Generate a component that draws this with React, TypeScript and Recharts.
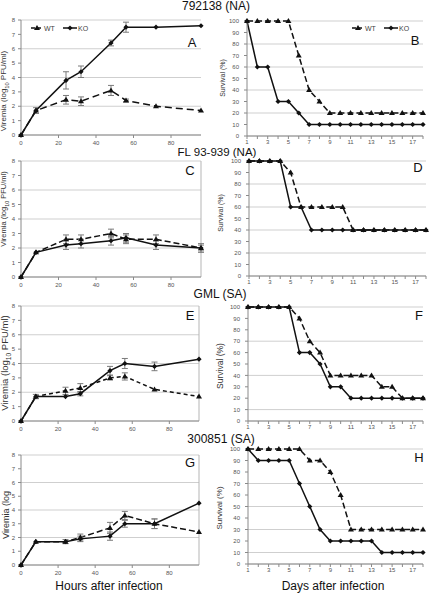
import React from "react";
import {
  LineChart,
  Line,
  XAxis,
  YAxis,
  CartesianGrid,
  ErrorBar,
  ReferenceLine,
} from "recharts";

// sampling points
const hours = [0, 8, 24, 32, 48, 56, 72, 96];
const days = [1, 2, 3, 4, 5, 6, 7, 8, 9, 10, 11, 12, 13, 14, 15, 16, 17, 18];

// 792138 (NA)
const wtViremiaA = [0, 1.7, 2.45, 2.35, 3.1, 2.4, 2.0, 1.7];
const wtErrA = [0, 0.2, 0.3, 0.3, 0.35, 0.1, 0, 0];
const koViremiaA = [0, 1.7, 3.8, 4.4, 6.4, 7.5, 7.5, 7.6];
const koErrA = [0, 0, 0.6, 0.4, 0.2, 0.35, 0, 0];
const wtSurvB = [100, 100, 100, 100, 100, 70, 40, 30, 20, 20, 20, 20, 20, 20, 20, 20, 20, 20];
const koSurvB = [100, 60, 60, 30, 30, 20, 10, 10, 10, 10, 10, 10, 10, 10, 10, 10, 10, 10];

// FL 93-939 (NA)
const wtViremiaC = [0, 1.7, 2.6, 2.6, 3.0, 2.6, 2.6, 2.0];
const wtErrC = [0, 0, 0.3, 0.3, 0.3, 0.3, 0.3, 0.3];
const koViremiaC = [0, 1.7, 2.2, 2.3, 2.5, 2.7, 2.2, 2.0];
const koErrC = [0, 0, 0.3, 0.3, 0.3, 0.3, 0.3, 0.2];
const wtSurvD = [100, 100, 100, 100, 90, 60, 60, 60, 60, 60, 40, 40, 40, 40, 40, 40, 40, 40];
const koSurvD = [100, 100, 100, 100, 60, 60, 40, 40, 40, 40, 40, 40, 40, 40, 40, 40, 40, 40];

// GML (SA)
const wtViremiaE = [0, 1.7, 2.1, 2.3, 3.0, 3.1, 2.2, 1.7];
const wtErrE = [0, 0.15, 0.25, 0.3, 0.15, 0.25, 0, 0];
const koViremiaE = [0, 1.7, 1.7, 1.9, 3.5, 4.0, 3.8, 4.3];
const koErrE = [0, 0, 0, 0.15, 0.3, 0.35, 0.3, 0];
const wtSurvF = [100, 100, 100, 100, 100, 90, 70, 60, 40, 40, 40, 40, 40, 30, 30, 20, 20, 20];
const koSurvF = [100, 100, 100, 100, 100, 60, 60, 50, 30, 30, 20, 20, 20, 20, 20, 20, 20, 20];

// 300851 (SA)
const wtViremiaG = [0, 1.7, 1.7, 2.0, 2.7, 3.6, 3.0, 2.4];
const wtErrG = [0, 0, 0.15, 0.25, 0.4, 0.3, 0.35, 0];
const koViremiaG = [0, 1.7, 1.7, 1.9, 2.1, 3.0, 3.0, 4.5];
const koErrG = [0, 0, 0, 0.2, 0.3, 0.25, 0.35, 0];
const wtSurvH = [100, 100, 100, 100, 100, 100, 90, 90, 80, 60, 30, 30, 30, 30, 30, 30, 30, 30];
const koSurvH = [100, 90, 90, 90, 90, 70, 50, 30, 20, 20, 20, 20, 20, 10, 10, 10, 10, 10];

const viremiaTicks = [0, 1, 2, 3, 4, 5, 6, 7, 8];
const survivalTicks = [0, 10, 20, 30, 40, 50, 60, 70, 80, 90, 100];

const FONT = "'Liberation Sans', Arial, sans-serif";
const INK = "#111";
const AXIS = "#8a8a8a";
const GRID = "#cfcfcf";
const TICK = { fontSize: 6, fill: "#555", fontFamily: FONT };

const Triangle = (props: any) => {
  const { cx, cy } = props;
  if (cx == null || cy == null) return null;
  return (
    <path
      key={`t-${cx}-${cy}`}
      d={`M${cx},${cy - 3}L${cx + 3},${cy + 2}L${cx - 3},${cy + 2}Z`}
      fill={INK}
    />
  );
};

const Diamond = (props: any) => {
  const { cx, cy } = props;
  if (cx == null || cy == null) return null;
  return (
    <path
      key={`d-${cx}-${cy}`}
      d={`M${cx},${cy - 2.6}L${cx + 2.6},${cy}L${cx},${cy + 2.6}L${cx - 2.6},${cy}Z`}
      fill={INK}
    />
  );
};

type Box = { left: number; top: number; width: number; height: number };
type Margin = { top: number; right: number; bottom: number; left: number };

function ViremiaPanel({
  box,
  margin,
  wt,
  wtErr,
  ko,
  koErr,
  dash,
  frame,
}: {
  box: Box;
  margin: Margin;
  wt: number[];
  wtErr: number[];
  ko: number[];
  koErr: number[];
  dash: string;
  frame?: boolean;
}) {
  const rows = hours.map((h, i) => ({
    h,
    wt: wt[i],
    wtErr: wtErr[i],
    ko: ko[i],
    koErr: koErr[i],
  }));
  return (
    <div style={{ position: "absolute", ...box }}>
      <LineChart width={box.width} height={box.height} data={rows} margin={margin}>
        <CartesianGrid horizontal vertical={false} stroke={GRID} />
        <XAxis
          dataKey="h"
          type="number"
          domain={[0, 96]}
          ticks={[0, 20, 40, 60, 80]}
          tick={TICK}
          tickSize={3}
          tickMargin={3}
          height={12}
          axisLine={{ stroke: AXIS }}
          tickLine={{ stroke: AXIS }}
        />
        <YAxis
          type="number"
          domain={[0, 8]}
          ticks={viremiaTicks}
          tick={TICK}
          tickSize={3}
          tickMargin={3}
          width={21}
          axisLine={{ stroke: AXIS }}
          tickLine={{ stroke: AXIS }}
        />
        {frame && <ReferenceLine x={96} stroke="#b5b5b5" />}
        <Line
          dataKey="wt"
          name="WT"
          stroke={INK}
          strokeWidth={1.5}
          strokeDasharray={dash}
          dot={Triangle}
          isAnimationActive={false}
        >
          <ErrorBar dataKey="wtErr" direction="y" width={3} stroke="#7a7a7a" strokeWidth={1} />
        </Line>
        <Line
          dataKey="ko"
          name="KO"
          stroke={INK}
          strokeWidth={1.5}
          dot={Diamond}
          isAnimationActive={false}
        >
          <ErrorBar dataKey="koErr" direction="y" width={3} stroke="#7a7a7a" strokeWidth={1} />
        </Line>
      </LineChart>
    </div>
  );
}

function SurvivalPanel({
  box,
  margin,
  axisWidth,
  wt,
  ko,
}: {
  box: Box;
  margin: Margin;
  axisWidth: number;
  wt: number[];
  ko: number[];
}) {
  const rows = days.map((d, i) => ({ d, wt: wt[i], ko: ko[i] }));
  return (
    <div style={{ position: "absolute", ...box }}>
      <LineChart width={box.width} height={box.height} data={rows} margin={margin}>
        <CartesianGrid horizontal vertical={false} stroke={GRID} />
        <XAxis
          dataKey="d"
          type="number"
          domain={[1, 18]}
          ticks={days}
          tickFormatter={(v: number) => (v % 2 === 1 ? String(v) : "")}
          tick={TICK}
          tickSize={3}
          tickMargin={1}
          height={12}
          axisLine={{ stroke: AXIS }}
          tickLine={{ stroke: AXIS }}
        />
        <YAxis
          type="number"
          domain={[0, 100]}
          ticks={survivalTicks}
          tick={TICK}
          tickSize={3}
          tickMargin={5}
          width={axisWidth}
          axisLine={{ stroke: AXIS }}
          tickLine={{ stroke: AXIS }}
        />
        <Line
          dataKey="wt"
          name="WT"
          stroke={INK}
          strokeWidth={1.5}
          strokeDasharray="6 3"
          dot={Triangle}
          isAnimationActive={false}
        />
        <Line
          dataKey="ko"
          name="KO"
          stroke={INK}
          strokeWidth={1.5}
          dot={Diamond}
          isAnimationActive={false}
        />
      </LineChart>
    </div>
  );
}

function Text({
  x,
  y,
  size,
  children,
  rotate,
  color = "#111",
  lh = 1,
}: {
  x: number;
  y: number;
  size: number;
  children: React.ReactNode;
  rotate?: boolean;
  color?: string;
  lh?: number;
}) {
  return (
    <div
      style={{
        position: "absolute",
        left: x,
        top: y,
        transform: `translate(-50%, -50%)${rotate ? " rotate(-90deg)" : ""}`,
        fontSize: size,
        fontFamily: FONT,
        color,
        whiteSpace: "nowrap",
        lineHeight: lh,
      }}
    >
      {children}
    </div>
  );
}

function LegendKey({ x, y }: { x: number; y: number }) {
  return (
    <svg
      style={{ position: "absolute", left: x, top: y - 5 }}
      width={70}
      height={10}
      fontFamily={FONT}
      fontSize={7}
    >
      <line x1={1} y1={5} x2={13} y2={5} stroke={INK} strokeWidth={1.5} strokeDasharray="4 2" />
      <Triangle cx={7} cy={5} />
      <text x={14} y={7.5} fill="#444">WT</text>
      <line x1={33} y1={5} x2={47} y2={5} stroke={INK} strokeWidth={1.5} />
      <Diamond cx={40} cy={5} />
      <text x={48} y={7.5} fill="#444">KO</text>
    </svg>
  );
}

const vireLabel = (
  <span>
    Viremia (log<span style={{ fontSize: "70%", verticalAlign: "sub" }}>10</span> PFU/ml)
  </span>
);

export default function App() {
  return (
    <div
      style={{
        position: "absolute",
        left: 0,
        top: 0,
        width: 431,
        height: 599,
        background: "#fff",
        overflow: "hidden",
      }}
    >
      <ViremiaPanel
        box={{ left: 0, top: 0, width: 215, height: 150 }}
        margin={{ top: 20, right: 14, bottom: 3, left: 0 }}
        wt={wtViremiaA}
        wtErr={wtErrA}
        ko={koViremiaA}
        koErr={koErrA}
        dash="7 4"
      />
      <SurvivalPanel
        box={{ left: 215, top: 0, width: 216, height: 150 }}
        margin={{ top: 21, right: 8, bottom: 2, left: 0 }}
        axisWidth={32}
        wt={wtSurvB}
        ko={koSurvB}
      />
      <ViremiaPanel
        box={{ left: 0, top: 150, width: 215, height: 150 }}
        margin={{ top: 11, right: 14, bottom: 11, left: 0 }}
        wt={wtViremiaC}
        wtErr={wtErrC}
        ko={koViremiaC}
        koErr={koErrC}
        dash="6 3"
        frame
      />
      <SurvivalPanel
        box={{ left: 215, top: 150, width: 216, height: 150 }}
        margin={{ top: 11, right: 5, bottom: 12, left: 0 }}
        axisWidth={34}
        wt={wtSurvD}
        ko={koSurvD}
      />
      <ViremiaPanel
        box={{ left: 0, top: 300, width: 215, height: 150 }}
        margin={{ top: 6, right: 16, bottom: 17, left: 0 }}
        wt={wtViremiaE}
        wtErr={wtErrE}
        ko={koViremiaE}
        koErr={koErrE}
        dash="4 3"
        frame
      />
      <SurvivalPanel
        box={{ left: 215, top: 300, width: 216, height: 150 }}
        margin={{ top: 7, right: 8, bottom: 17, left: 0 }}
        axisWidth={33}
        wt={wtSurvF}
        ko={koSurvF}
      />
      <ViremiaPanel
        box={{ left: 0, top: 450, width: 215, height: 149 }}
        margin={{ top: 5, right: 16, bottom: 22, left: 0 }}
        wt={wtViremiaG}
        wtErr={wtErrG}
        ko={koViremiaG}
        koErr={koErrG}
        dash="6 3"
        frame
      />
      <SurvivalPanel
        box={{ left: 215, top: 440, width: 216, height: 140 }}
        margin={{ top: 9, right: 8, bottom: 4, left: 0 }}
        axisWidth={33}
        wt={wtSurvH}
        ko={koSurvH}
      />

      {/* strain titles */}
      <Text x={216} y={7} size={12} lh={0.8}>792138 (NA)</Text>
      <Text x={217} y={152.8} size={11.5} lh={0.8}>FL 93-939 (NA)</Text>
      <Text x={220} y={295} size={12} lh={0.8}>GML (SA)</Text>
      <Text x={221} y={440} size={12} lh={0.8}>300851 (SA)</Text>

      {/* panel letters */}
      <Text x={192} y={42} size={13}>A</Text>
      <Text x={415} y={40} size={13}>B</Text>
      <Text x={190} y={170} size={13}>C</Text>
      <Text x={418} y={167} size={13}>D</Text>
      <Text x={190} y={315} size={13}>E</Text>
      <Text x={419} y={315} size={13}>F</Text>
      <Text x={190} y={462} size={13}>G</Text>
      <Text x={419} y={457} size={13}>H</Text>

      {/* axis titles */}
      <Text x={5} y={91} size={8} rotate color="#333">{vireLabel}</Text>
      <Text x={5} y={209} size={7.5} rotate color="#333">{vireLabel}</Text>
      <Text x={6} y={363} size={9.5} rotate color="#333">{vireLabel}</Text>
      <Text x={6} y={515} size={9} rotate color="#333">Viremia (log</Text>
      <Text x={222} y={78} size={7} rotate color="#333">Survival (%)</Text>
      <Text x={220} y={213} size={7} rotate color="#333">Survival (%)</Text>
      <Text x={220} y={366} size={8.5} rotate color="#333">Survival (%)</Text>
      <Text x={220} y={508} size={8} rotate color="#333">Survival (%)</Text>
      <Text x={109} y={586} size={12}>Hours after infection</Text>
      <Text x={333} y={586} size={12}>Days after infection</Text>

      <LegendKey x={30} y={28} />
      <LegendKey x={351} y={28} />
    </div>
  );
}
